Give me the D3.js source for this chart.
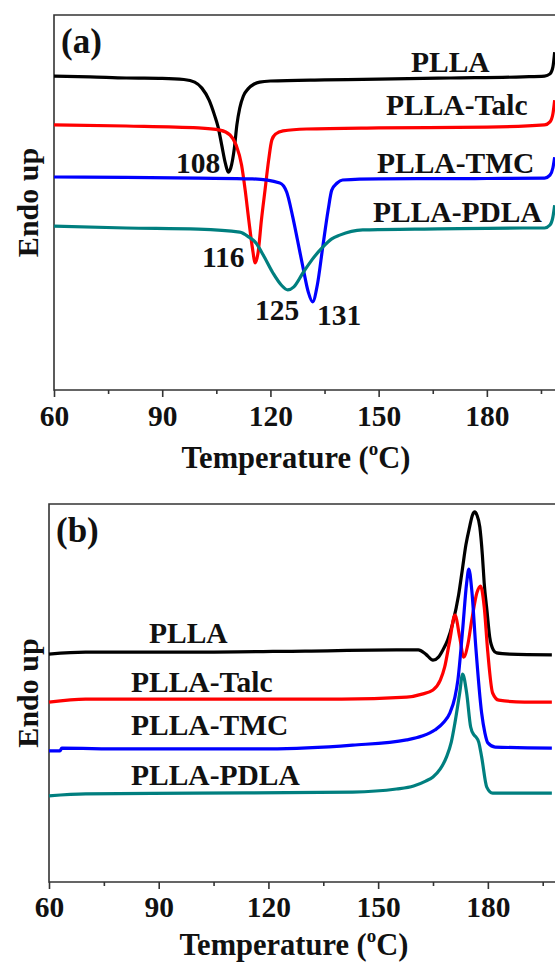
<!DOCTYPE html>
<html>
<head>
<meta charset="utf-8">
<script src="https://cdnjs.cloudflare.com/ajax/libs/d3/7.8.5/d3.min.js"></script>
<style>
  body { margin: 0; background: #fff; }
  svg text { font-family: "Liberation Serif", "Times New Roman", serif; font-weight: bold; fill: #111; }
</style>
</head>
<body>
<svg width="555" height="963"></svg>
<script>
// ---- data (temperature in oC, heat flow in arbitrary units, endo up) ----
var majorTicks = [60, 90, 120, 150, 180];
var minorTicks = [75, 105, 135, 165, 195];
var seriesNames = ['PLLA', 'PLLA-Talc', 'PLLA-TMC', 'PLLA-PDLA'];
var seriesColors = ['#000000', '#ff0000', '#0000ff', '#007f7f'];

// (a) cooling scans
var coolPLLA = [[60,83.7],[70,83.5],[80,83.2],[90,83.1],[96,82.8],[99,82.1],[101,80.5],[103,77.3],[104.5,73.3],[105.5,70.1],[106.5,65.3],[107.5,60.5],[108.3,58.1],[109,59.2],[110,64.5],[110.7,70.7],[111.5,75.2],[112.5,78.4],[113.8,80.3],[115.5,81.6],[117,82.1],[120,82.4],[135,82.7],[150,82.9],[170,83.2],[190,83.5],[196,83.7],[197.5,84.3],[198.3,86.1],[198.8,90.1]];
var coolTalc = [[60,70.7],[80,70.4],[100,69.9],[106,69.3],[108.8,68.0],[110.5,65.3],[112,60.0],[113,53.3],[114,45.3],[115,37.9],[115.8,33.9],[116.6,36.8],[117.5,45.3],[118.5,53.3],[119.5,61.3],[120.4,66.7],[121.5,68.3],[123.5,69.1],[130,69.6],[150,69.9],[180,70.1],[196,70.7],[197.5,71.5],[198.3,73.6],[198.8,77.3]];
var coolTMC = [[60,56.8],[80,56.7],[100,56.5],[115,56.3],[122.6,55.2],[124.5,52.8],[126.2,46.1],[127.5,40.0],[129,32.8],[130.5,26.1],[131.7,23.5],[133,28.0],[134.5,38.1],[136,48.0],[137,53.3],[138.5,55.2],[140,56.0],[150,56.3],[180,56.4],[196,56.5],[197.5,57.3],[198.3,59.2],[198.8,62.1]];
var coolPDLA = [[60,43.7],[80,43.2],[100,42.9],[111.5,42.1],[114,40.8],[116,39.2],[118,36.0],[120.7,31.2],[123,28.0],[124.8,26.7],[126.5,27.5],[129,31.2],[131.5,34.7],[134.5,38.1],[137,40.3],[139.2,41.3],[145.6,42.7],[160,42.9],[190,43.2],[196,43.2],[197.5,44.0],[198.3,46.1],[198.8,49.3]];
var coolPeaks = [108, 116, 125, 131];

// (b) heating scans
var heatPLLA = [[60,60.3],[70,60.8],[100,60.8],[130,61.1],[155,61.4],[161,61.4],[163,60.3],[165,58.7],[166.5,59.5],[167.7,61.4],[169,64.0],[170.4,68.5],[172,75.9],[173,82.5],[174,89.2],[175,93.9],[175.8,97.1],[176.4,97.9],[177,97.1],[177.8,93.9],[178.5,86.5],[179,79.1],[179.8,71.4],[180.5,64.8],[181.5,61.4],[182.4,60.6],[186,60.3],[197.5,60.1]];
var heatTalc = [[60,47.6],[70,48.4],[100,48.4],[140,48.4],[157.8,48.9],[162,49.7],[165,50.8],[167,53.4],[168.2,56.9],[169.6,64.0],[171,70.6],[172.3,64.8],[173.4,59.5],[174.5,62.7],[175.6,69.3],[177,76.5],[178,78.3],[179,72.8],[180,60.6],[181.3,50.0],[183,48.1],[190,47.6],[197.5,47.6]];
var heatTMC = [[60,34.7],[63,34.7],[63.5,35.4],[80,35.2],[120,35.2],[143,36.2],[157.8,37.6],[162,38.6],[165.5,40.2],[168,42.3],[169.6,44.7],[171,48.9],[171.8,53.4],[173.1,66.7],[174.2,79.1],[174.8,82.8],[175.6,77.2],[176.7,62.2],[178.3,44.7],[179.2,39.4],[180,36.8],[182,35.7],[197.5,35.4]];
var heatPDLA = [[60,22.8],[70,23.3],[100,23.5],[143,23.8],[155,24.6],[159.7,25.4],[163,26.7],[165,27.8],[167,29.9],[168.7,33.1],[170,37.0],[171,42.1],[172.3,50.0],[173.1,55.0],[174.2,50.0],[175.3,41.0],[176.2,38.9],[176.7,38.4],[177.5,37.0],[178.3,33.1],[179.7,25.1],[181.3,23.5],[197.5,23.5]];

var svg = d3.select('svg');

function panel(opt) {
  var x = d3.scaleLinear().domain([60, 200]).range([opt.left, opt.right]);
  var y = d3.scaleLinear().domain([0, 100]).range([opt.bottom, opt.top]);
  var g = svg.append('g');

  // frame (right side falls outside the picture)
  g.append('path')
    .attr('d', 'M' + opt.right + ',' + opt.top + 'H' + opt.left + 'V' + opt.bottom + 'H' + opt.right)
    .attr('fill', 'none').attr('stroke', '#333').attr('stroke-width', 1.6);

  var ax = g.append('g').attr('transform', 'translate(0,' + opt.bottom + ')')
    .call(d3.axisBottom(x).tickValues(majorTicks).tickSize(7).tickSizeOuter(0).tickPadding(opt.pad));
  ax.select('.domain').remove();
  ax.selectAll('line').attr('stroke', '#333').attr('stroke-width', 1.6);
  ax.selectAll('text').style('font-size', '29.5px').attr('fill', '#111');

  var ax2 = g.append('g').attr('transform', 'translate(0,' + opt.bottom + ')')
    .call(d3.axisBottom(x).tickValues(minorTicks).tickSize(4).tickFormat(''));
  ax2.select('.domain').remove();
  ax2.selectAll('line').attr('stroke', '#333').attr('stroke-width', 1.6);

  var line = d3.line().x(function(d){ return x(d[0]); }).y(function(d){ return y(d[1]); })
    .curve(d3.curveMonotoneX);
  opt.series.forEach(function(s, i) {
    g.append('path').datum(s).attr('d', line)
      .attr('fill', 'none').attr('stroke', seriesColors[i]).attr('stroke-width', 3.2)
      .attr('stroke-linejoin', 'round');
  });

  // labels
  g.append('text').attr('x', opt.left + 7).attr('y', opt.top + opt.tagDy)
    .style('font-size', '35px').text(opt.tag);
  opt.names.forEach(function(n) {
    g.append('text').attr('x', n[1]).attr('y', n[2]).style('font-size', '29.5px').text(n[0]);
  });

  var t = g.append('text').attr('x', opt.titleX).attr('y', opt.titleY)
    .attr('text-anchor', 'middle').style('font-size', '30.5px');
  t.append('tspan').text('Temperature (');
  t.append('tspan').attr('dy', -13).style('font-size', '19px').text('o');
  t.append('tspan').attr('dy', 13).text('C)');

  g.append('text')
    .attr('transform', 'translate(27,' + ((opt.top + opt.bottom) / 2) + ') rotate(-90)')
    .attr('text-anchor', 'middle').attr('dominant-baseline', 'central')
    .style('font-size', '30px').text('Endo up');
  return g;
}

var ga = panel({
  left: 54, right: 559, top: 15, bottom: 390, pad: 8, tag: '(a)', tagDy: 38,
  titleX: 296, titleY: 468,
  series: [coolPLLA, coolTalc, coolTMC, coolPDLA],
  names: [[seriesNames[0], 411, 72], [seriesNames[1], 386, 115], [seriesNames[2], 377, 173], [seriesNames[3], 373, 222]]
});
// peak temperatures
var peakPos = [[176, 173], [202, 267], [255, 320], [317, 325]];
coolPeaks.forEach(function(p, i) {
  ga.append('text').attr('x', peakPos[i][0]).attr('y', peakPos[i][1])
    .style('font-size', '29.5px').text(p);
});

panel({
  left: 49, right: 561, top: 504, bottom: 882, pad: 7, tag: '(b)', tagDy: 38,
  titleX: 294, titleY: 955,
  series: [heatPLLA, heatTalc, heatTMC, heatPDLA],
  names: [[seriesNames[0], 149, 643], [seriesNames[1], 131, 692], [seriesNames[2], 131, 735], [seriesNames[3], 131, 785]]
});
</script>
</body>
</html>
